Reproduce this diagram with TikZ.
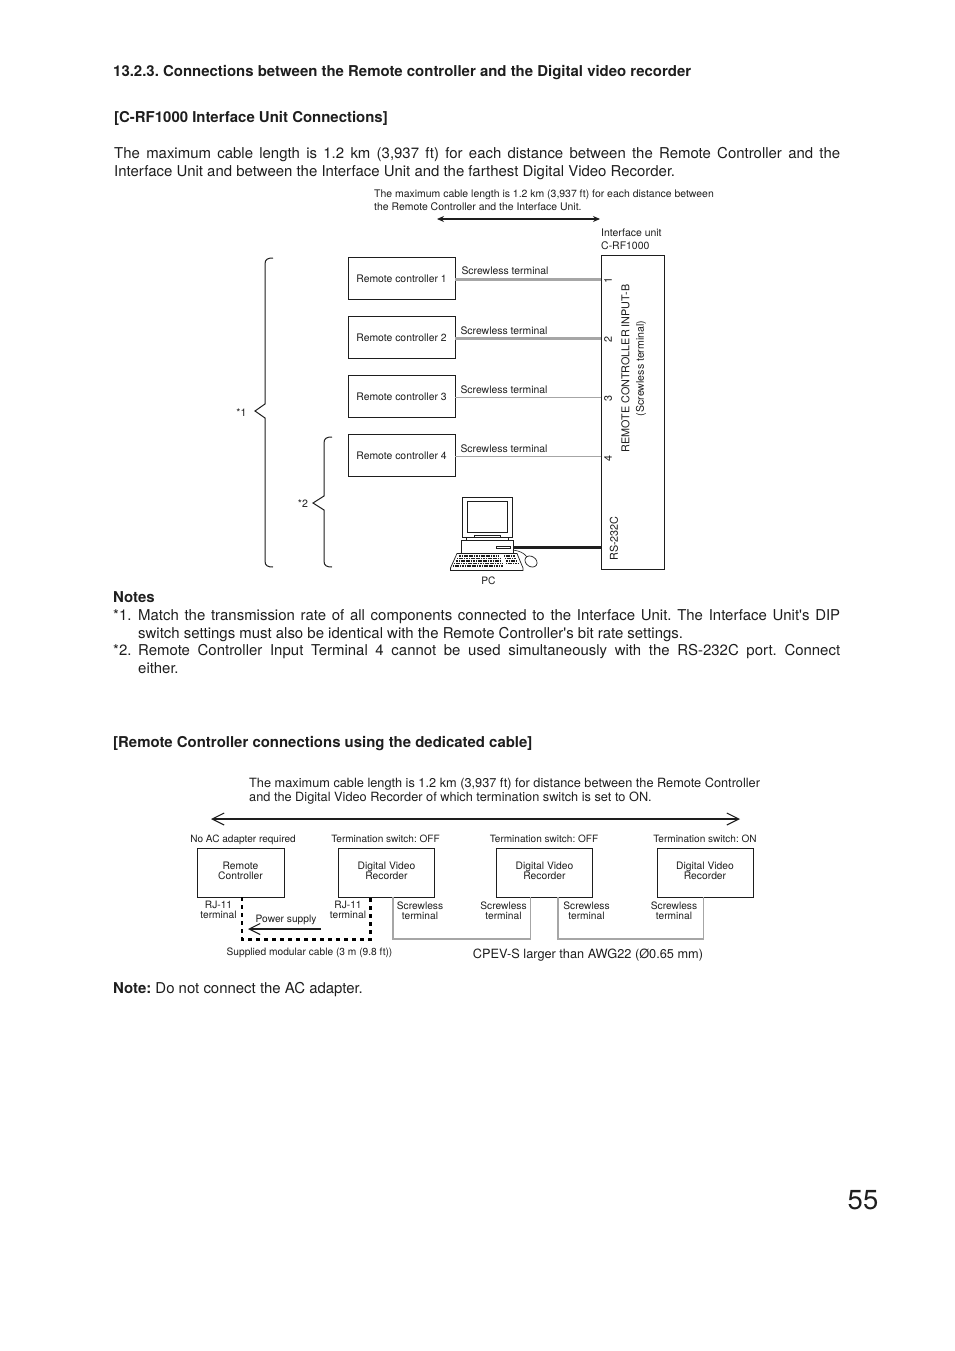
\documentclass[tikz,border=0pt]{standalone}
\usepackage{fontspec}
\setmainfont{TeX Gyre Heros}[Ligatures=TeXOff]
\usetikzlibrary{arrows.meta}
\definecolor{ink}{HTML}{1E1E1E}
\definecolor{cable}{HTML}{A6A6A6}
\newcommand{\fs}[2]{\fontsize{#1pt}{#2pt}\selectfont\frenchspacing}
\newcommand{\lowstrut}{\rule[-4pt]{0pt}{4pt}}
\tikzset{
  every node/.style={inner sep=0pt,text=ink},
  body/.style={anchor=base west,font=\fs{14.95}{18}},
  head/.style={anchor=base west,font=\fs{14.95}{18}\bfseries},
  para/.style={anchor=north west,align=justify,font=\fs{14.95}{18}},
  small/.style={font=\fs{10.2}{10},align=center},
  captext/.style={font=\fs{10.45}{12.6},align=left,anchor=base west},
  vtext/.style={font=\fs{10.8}{10},rotate=90},
  unit/.style={draw=ink,line width=0.8pt,minimum width=107pt,minimum height=42.5pt,font=\fs{10.4}{10}},
  dvrbox/.style={draw=ink,line width=0.8pt,minimum width=96pt,minimum height=49pt,font=\fs{10.3}{10},align=center},
  thickcable/.style={cable,line width=2.6pt},
  thincable/.style={cable,line width=1.5pt},
  buscable/.style={cable,line width=1.9pt},
  modcable/.style={black,line width=2.6pt,dash pattern=on 4pt off 4pt},
  brace/.style={ink,line width=1pt},
  barb/.style={ink,line width=1.1pt,-{Straight Barb[length=11pt,width=11pt]}},
  pcline/.style={ink,line width=0.7pt,fill=white},
  keyrow/.style={ink,line width=1.2pt,dash pattern=on 1.2pt off 0.5pt},
  switchlabel/.style={font=\fs{10.05}{10},anchor=base},
  termlabel/.style={font=\fs{10.4}{10}},
  starlabel/.style={font=\fs{10.6}{10}},
}
\begin{document}
\begin{tikzpicture}[x=1pt,y=-1pt]
\useasboundingbox (0,0) rectangle (954,1351);
\fill[white] (0,0) rectangle (954,1351);
% headings and paragraphs
\node[head] (h1) at (113,77) {13.2.3. Connections between the Remote controller and the Digital video recorder};
\node[head] (h2) at (114,123) {[C-RF1000 Interface Unit Connections]};
\node[para,text width=726pt] (p1) at (114,147) {The maximum cable length is 1.2 km (3,937 ft) for each distance between the Remote Controller and the\linebreak Interface Unit and between the Interface Unit and the farthest Digital Video Recorder.};
% top caption
\node[captext] (c1) at (374,210.5) {The maximum cable length is 1.2 km (3,937 ft) for each distance between\\the Remote Controller and the Interface Unit.};
\coordinate (dl) at (437,219);
\coordinate (dr) at (600,219);
\draw[ink,line width=1.1pt,{Stealth[length=7pt,width=6pt]}-{Stealth[length=7pt,width=6pt]}] (dl) -- (dr);
\node[captext] (iu) at (601,249) {Interface unit\\C-RF1000};
% controllers
\node[unit] (r1) at (401.5,278.5) {Remote controller 1};
\node[unit] (r2) at (401.5,337.3) {Remote controller 2};
\node[unit] (r3) at (401.5,396.5) {Remote controller 3};
\node[unit] (r4) at (401.5,455.5) {Remote controller 4};
\node[draw=ink,line width=0.8pt,minimum width=63.5pt,minimum height=314pt] (iface) at (633,412) {};
\draw[thickcable] (r1.east |- 0,279.5) -- (iface.west |- 0,279.5);
\draw[thickcable] (r2.east |- 0,338.5) -- (iface.west |- 0,338.5);
\draw[thincable] (r3.east |- 0,397.5) -- (iface.west |- 0,397.5);
\draw[thincable] (r4.east |- 0,456.5) -- (iface.west |- 0,456.5);
\node[termlabel] (s1) at (505,270.5) {Screwless terminal};
\node[termlabel] (s2) at (504,330.5) {Screwless terminal};
\node[termlabel] (s3) at (504,389.5) {Screwless terminal};
\node[termlabel] (s4) at (504,448.5) {Screwless terminal};
\node[vtext] (n1) at (608,280) {1};
\node[vtext] (n2) at (608,339) {2};
\node[vtext] (n3) at (608,398.5) {3};
\node[vtext] (n4) at (608,458) {4};
\node[vtext] (v1) at (625.5,368.5) {REMOTE CONTROLLER INPUT-B};
\node[vtext,font=\fs{10.6}{10}] (v2) at (641,368.5) {(Screwless terminal)};
\node[vtext] (v3) at (614,538.5) {RS-232C};
% braces
\draw[brace] (273,258) .. controls (268,258) and (265,259) .. (265,264) -- (265,404) -- (255,411) -- (265,418) -- (265,561) .. controls (265,566) and (268,567) .. (273,567);
\node[starlabel] (b1) at (241.5,412.5) {*1};
\draw[brace] (332,437) .. controls (327,437) and (324,438) .. (324,443) -- (324,496) -- (313,503) -- (324,510) -- (324,561) .. controls (324,566) and (327,567) .. (332,567);
\node[starlabel] (b2) at (303,503.5) {*2};
% PC
\draw[pcline] (462,497) rectangle (512,537);
\draw[pcline] (467,501.5) rectangle (507,532.5);
\draw[pcline] (466,537) rectangle (508,540);
\draw[pcline] (474,535.5) rectangle (500,537);
\node[draw=ink,line width=0.7pt,fill=white,minimum width=52pt,minimum height=13pt] (pcbase) at (487,546.5) {};
\draw[ink,line width=0.5pt,fill=white] (496,546) rectangle (510,548.5);
\draw[ink,line width=0.6pt] (513,550) .. controls (520,551) and (524,553) .. (527,557);
\draw[pcline,rotate around={-35:(531,561.5)}] (531,561.5) ellipse (6.5pt and 5pt);
\draw[pcline] (457,553.5) -- (517,553.5) -- (523,568) -- (523,570.5) -- (450.5,570.5) -- (450.5,568) -- cycle;
\draw[keyrow] (458.5,556) -- (499,556);
\draw[keyrow] (457,558.5) -- (500,558.5);
\draw[keyrow] (455.5,561) -- (501,561);
\draw[keyrow] (454,563.5) -- (502,563.5);
\draw[keyrow] (453,566) -- (503,566);
\draw[keyrow] (504,556) -- (515,556);
\draw[keyrow] (505,558.5) -- (516,558.5);
\draw[keyrow] (505.5,561) -- (517,561);
\draw[keyrow] (506,563.5) -- (518,563.5);
\node[small] (pc) at (488.5,581) {PC};
\draw[ink,line width=2.6pt] (pcbase.east |- 0,547.5) -- (iface.west |- 0,547.5);
% notes
\node[head] (nt) at (113,602) {Notes};
\node[body] (m1) at (113,620) {*1.};
\node[para,text width=702pt] (p2) at (138,609) {Match the transmission rate of all components connected to the Interface Unit. The Interface Unit's DIP\linebreak switch settings must also be identical with the Remote Controller's bit rate settings.};
\node[body] (m2) at (113,655) {*2.};
\node[para,text width=702pt] (p3) at (138,644) {Remote Controller Input Terminal 4 cannot be used simultaneously with the RS-232C port. Connect\linebreak either.};
% second section
\node[head] (h3) at (113,747) {[Remote Controller connections using the dedicated cable]};
\node[anchor=base west,align=left,font=\fs{12.75}{14}] (c2) at (249,801) {The maximum cable length is 1.2 km (3,937 ft) for distance between the Remote Controller\\and the Digital Video Recorder of which termination switch is set to ON.};
\coordinate (al) at (211,819);
\coordinate (ar) at (740,819);
\draw[ink,line width=1.1pt,{Straight Barb[length=12pt,width=12pt]}-{Straight Barb[length=12pt,width=12pt]}] (al) -- (ar);
\node[switchlabel] (t0) at (243,842.5) {No AC adapter required};
\node[switchlabel] (t1) at (385.5,842.5) {Termination switch: OFF};
\node[switchlabel] (t2) at (544,842.5) {Termination switch: OFF};
\node[switchlabel] (t3) at (705,842.5) {Termination switch: ON};
\node[dvrbox,minimum width=87pt] (rc) at (240.5,872.5) {Remote\\Controller\lowstrut};
\node[dvrbox] (d1) at (386.5,872.5) {Digital Video\\Recorder\lowstrut};
\node[dvrbox] (d2) at (544.5,872.5) {Digital Video\\Recorder\lowstrut};
\node[dvrbox,xshift=-1pt] (d3) at (706,872.5) {Digital Video\\Recorder\lowstrut};
\draw[modcable] ([xshift=1.5pt]rc.south) -- ++(0,42) -| ([xshift=-16pt]d1.south);
\draw[barb] (321,929) -- (248,929);
\node[small] (ps) at (286,920) {Power supply};
\node[small] (j1) at (218.5,910) {RJ-11\\terminal};
\node[small] (j2) at (348,910) {RJ-11\\terminal};
\draw[buscable] ([xshift=6.5pt]d1.south) -- ++(0,42) -| ([xshift=-14pt]d2.south);
\draw[buscable] ([xshift=13.5pt]d2.south) -- ++(0,42) -| ([xshift=-1.5pt]d3.south);
\node[small] (w1) at (420,911) {Screwless\\terminal};
\node[small] (w2) at (503.5,911) {Screwless\\terminal};
\node[small] (w3) at (586.5,911) {Screwless\\terminal};
\node[small] (w4) at (674,911) {Screwless\\terminal};
\node[small] (sm) at (309.5,953) {Supplied modular cable (3 m (9.8 ft))};
\node[font=\fs{12.75}{14}] (cp) at (588,955) {CPEV-S larger than AWG22 (Ø0.65 mm)};
\node[body] (nn) at (113,993) {\textbf{Note:} Do not connect the AC adapter.};
\node[anchor=base,font=\fs{27.5}{30}] (pg) at (863,1209.5) {55};
\end{tikzpicture}
\end{document}
